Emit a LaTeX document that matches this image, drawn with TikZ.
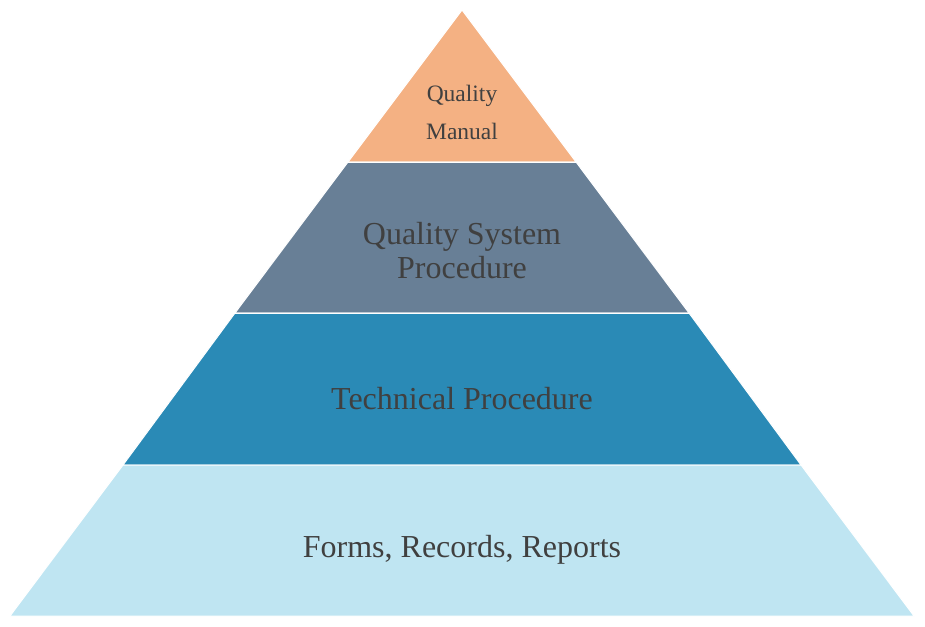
\documentclass[tikz,border=0pt]{standalone}
\usepackage{fontspec}
\setmainfont{Liberation Serif}
\definecolor{manualc}{HTML}{F4B183}
\definecolor{systemc}{HTML}{687F96}
\definecolor{technc}{HTML}{2A8AB6}
\definecolor{formsc}{HTML}{BFE5F2}
\definecolor{textc}{HTML}{404040}
\tikzset{
  layer/.style={draw=white, line width=1pt},
  big/.style={text=textc, font=\fontsize{32}{34}\selectfont, align=center},
  small/.style={text=textc, font=\fontsize{23.5}{38}\selectfont, align=center}
}
\begin{document}
\begin{tikzpicture}[x=1pt,y=-1pt]
    \useasboundingbox (0,0) rectangle (925,626);
    \fill[layer, fill=manualc] (462,10) -- (576,162) -- (348,162) -- cycle;
    \fill[layer, fill=systemc] (348,162) -- (576,162) -- (689,313) -- (235,313) -- cycle;
    \filldraw[layer, fill=technc] (235,313) -- (689,313) -- (801,465) -- (123,465) -- cycle;
    \filldraw[layer, fill=formsc] (123,465) -- (801,465) -- (914,616) -- (10,616) -- cycle;
    \draw[layer] (348,162) -- (576,162);
    \draw[layer] (235,313) -- (689,313);
    \node[small] (manual) at (462,112) {Quality\\Manual};
    \node[big] (system) at (462,251) {Quality System\\Procedure};
    \node[big] (techn) at (462,399) {Technical Procedure};
    \node[big] (forms) at (462,550) {Forms, Records, Reports};
\end{tikzpicture}
\end{document}
